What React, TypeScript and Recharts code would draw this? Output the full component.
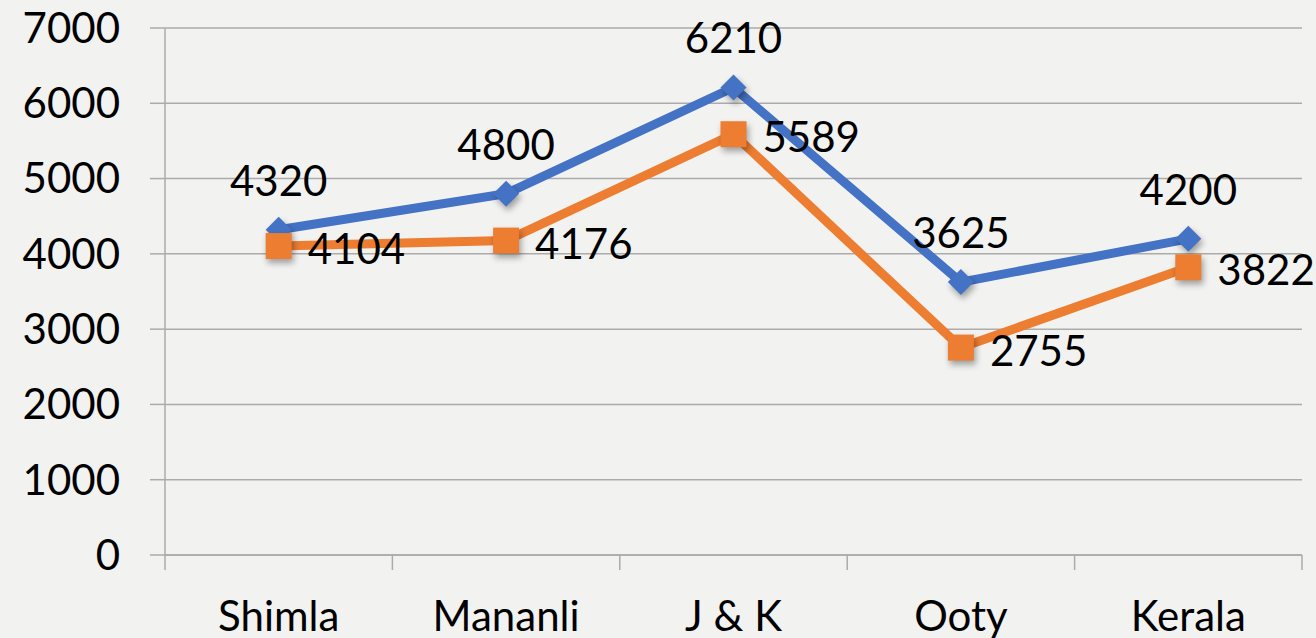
import React from 'react';
import {
  LineChart,
  Line,
  XAxis,
  YAxis,
  CartesianGrid,
  LabelList,
} from 'recharts';

const CATEGORIES = ['Shimla', 'Mananli', 'J & K', 'Ooty', 'Kerala'];
const BLUE_VALUES = [4320, 4800, 6210, 3625, 4200];
const ORANGE_VALUES = [4104, 4176, 5589, 2755, 3822];
const Y_TICKS = [0, 1000, 2000, 3000, 4000, 5000, 6000, 7000];

const BLUE = '#4472C4';
const ORANGE = '#ED7D31';
const GRID = '#ababab';
const FONT = 'Lato, "Open Sans", sans-serif';
const FONT_SIZE = 42;

// categories sit in the middle of each band, tick marks on the band edges
const chartData = CATEGORIES.map((name, i) => ({
  name,
  pos: i + 0.5,
  blue: BLUE_VALUES[i],
  orange: ORANGE_VALUES[i],
}));

const xTicks: number[] = [];
for (let i = 0; i <= CATEGORIES.length * 2; i++) xTicks.push(i / 2);

const XTick = (props: any) => {
  const { x, y, payload } = props;
  const v = payload.value as number;
  if (Number.isInteger(v)) {
    return <line x1={x} x2={x} y1={y - 15} y2={y} stroke={GRID} strokeWidth={1.5} />;
  }
  const name = CATEGORIES[Math.floor(v)];
  return (
    <text x={x} y={y + 61} textAnchor="middle" fill="#000" fontSize={FONT_SIZE} fontFamily={FONT}>
      {name}
    </text>
  );
};

const shadow = { filter: 'drop-shadow(2px 4px 3px rgba(0,0,0,0.35))' };

const Diamond = (props: any) => {
  const { cx, cy } = props;
  if (cx == null || cy == null) return null;
  const r = 13;
  return (
    <path
      d={`M${cx},${cy - r} L${cx + r},${cy} L${cx},${cy + r} L${cx - r},${cy} Z`}
      fill={BLUE}
      style={shadow}
    />
  );
};

const Square = (props: any) => {
  const { cx, cy } = props;
  if (cx == null || cy == null) return null;
  const r = 13;
  return <rect x={cx - r} y={cy - r} width={r * 2} height={r * 2} fill={ORANGE} style={shadow} />;
};

const TopLabel = (props: any) => {
  const { x, y, value } = props;
  return (
    <text x={x} y={y - 50} textAnchor="middle" dominantBaseline="central" fill="#000" fontSize={FONT_SIZE} fontFamily={FONT}>
      {value}
    </text>
  );
};

const RightLabel = (props: any) => {
  const { x, y, value } = props;
  return (
    <text x={x + 29} y={y + 2} textAnchor="start" dominantBaseline="central" fill="#000" fontSize={FONT_SIZE} fontFamily={FONT}>
      {value}
    </text>
  );
};

export default function App() {
  return (
    <div style={{ position: 'fixed', left: 0, top: 0, width: 1316, height: 638, background: '#f2f2f1' }}>
      <LineChart
        width={1316}
        height={638}
        data={chartData}
        margin={{ top: 28, right: 14, bottom: 0, left: 0 }}
      >
        <CartesianGrid vertical={false} stroke={GRID} strokeWidth={1.5} />
        <XAxis
          dataKey="pos"
          type="number"
          domain={[0, CATEGORIES.length]}
          ticks={xTicks}
          interval={0}
          height={83}
          tickSize={15}
          tickMargin={0}
          tickLine={false}
          axisLine={{ stroke: GRID, strokeWidth: 1.5 }}
          tick={<XTick />}
        />
        <YAxis
          domain={[0, 7000]}
          ticks={Y_TICKS}
          interval={0}
          width={165}
          tickSize={15}
          tickMargin={30}
          axisLine={{ stroke: GRID, strokeWidth: 1.5 }}
          tickLine={{ stroke: GRID, strokeWidth: 1.5 }}
          tick={{ fill: '#000', fontSize: FONT_SIZE, fontFamily: FONT }}
        />
        <Line
          dataKey="blue"
          stroke={BLUE}
          strokeWidth={9}
          dot={<Diamond />}
          activeDot={false}
          isAnimationActive={false}
        >
          <LabelList dataKey="blue" content={<TopLabel />} />
        </Line>
        <Line
          dataKey="orange"
          stroke={ORANGE}
          strokeWidth={9}
          dot={<Square />}
          activeDot={false}
          isAnimationActive={false}
        >
          <LabelList dataKey="orange" content={<RightLabel />} />
        </Line>
      </LineChart>
    </div>
  );
}
